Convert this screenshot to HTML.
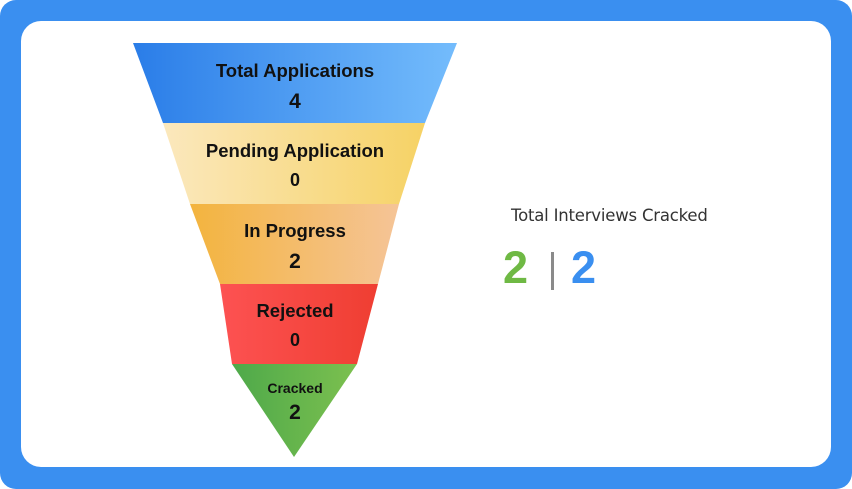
<!DOCTYPE html>
<html><head><style>
html,body{margin:0;padding:0;width:852px;height:489px;overflow:hidden;background:#fff}
</style></head><body>
<svg width="852" height="489" xmlns="http://www.w3.org/2000/svg" style="display:block">
<defs>
<linearGradient id="g1" x1="0" x2="1" y1="0" y2="0"><stop offset="0" stop-color="#2a7de8"/><stop offset="1" stop-color="#74bcfc"/></linearGradient>
<linearGradient id="g2" x1="0" x2="1" y1="0" y2="0"><stop offset="0" stop-color="#fbe8bd"/><stop offset="1" stop-color="#f6d265"/></linearGradient>
<linearGradient id="g3" x1="0" x2="1" y1="0" y2="0"><stop offset="0" stop-color="#f3b43e"/><stop offset="1" stop-color="#f5c497"/></linearGradient>
<linearGradient id="g4" x1="0" x2="1" y1="0" y2="0"><stop offset="0" stop-color="#fd5252"/><stop offset="1" stop-color="#ef3e32"/></linearGradient>
<linearGradient id="g5" x1="0" x2="1" y1="0" y2="0"><stop offset="0" stop-color="#4ea94a"/><stop offset="1" stop-color="#7cc04f"/></linearGradient>
</defs>
<rect x="0" y="0" width="852" height="489" rx="16" fill="#3a8ff0"/>
<rect x="21" y="21" width="810" height="446" rx="20" fill="#fff"/>
<polygon points="133,43 457,43 425,123 163,123" fill="url(#g1)"/>
<polygon points="163,123 425,123 399,204 190,204" fill="url(#g2)"/>
<polygon points="190,204 399,204 378,284 220,284" fill="url(#g3)"/>
<polygon points="220,284 378,284 357,364 232,364" fill="url(#g4)"/>
<polygon points="232,364 357,364 294,457" fill="url(#g5)"/>
<g font-family="Liberation Sans, sans-serif" font-weight="bold" fill="#111" text-anchor="middle">
<text x="295" y="77" font-size="18.5">Total Applications</text>
<text x="295" y="108" font-size="21">4</text>
<text x="295" y="157" font-size="18.5">Pending Application</text>
<text x="295" y="186" font-size="18">0</text>
<text x="295" y="237" font-size="18.5">In Progress</text>
<text x="295" y="268" font-size="21">2</text>
<text x="295" y="317" font-size="18.5">Rejected</text>
<text x="295" y="346" font-size="18">0</text>
<text x="295" y="393" font-size="14">Cracked</text>
<text x="295" y="419" font-size="21">2</text>
</g>
<text x="511" y="221" font-family="DejaVu Sans, sans-serif" font-size="16.5" fill="#333" letter-spacing="-0.2">Total Interviews Cracked</text>
<text x="503" y="283" font-family="Liberation Sans, sans-serif" font-weight="bold" font-size="45" fill="#6fb944">2</text>
<rect x="551" y="252" width="3" height="38" fill="#8a8a8a"/>
<text x="571" y="283" font-family="Liberation Sans, sans-serif" font-weight="bold" font-size="45" fill="#3a8ff0">2</text>
</svg>
</body></html>
